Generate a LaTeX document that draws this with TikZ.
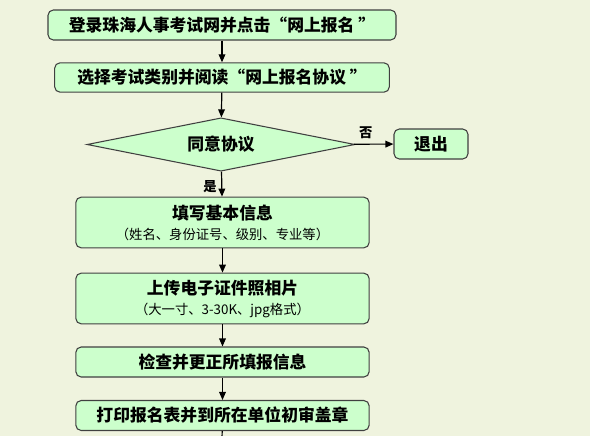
\documentclass[tikz,border=0pt]{standalone}
\usepackage{fontspec}
\newfontfamily\cjk{Noto Sans CJK SC}
\usetikzlibrary{shapes.geometric,arrows.meta}
\definecolor{pagebg}{HTML}{EFF3DE}
\definecolor{boxgreen}{HTML}{CCFFCC}
\definecolor{boxline}{HTML}{404040}
\tikzset{
  stepbox/.style={draw=boxline, fill=boxgreen, rounded corners=4pt, line width=0.8pt,
    inner sep=0pt, minimum width=220pt, font=\cjk\bfseries\fontsize{12.6}{14}\selectfont, align=center},
  askbox/.style={draw=boxline, fill=boxgreen, shape=diamond, aspect=5.05, line width=0.8pt,
    inner sep=0pt, minimum width=201pt, minimum height=40pt, font=\cjk\bfseries\fontsize{12.6}{14}\selectfont},
  flow/.style={-{Triangle[length=6pt,width=5pt]}, line width=0.9pt, black},
  small/.style={font=\cjk\bfseries\fontsize{10}{12}\selectfont}
}
\newcommand{\subline}[1]{{\mdseries\fontsize{10}{12}\selectfont #1}}
\begin{document}
\begin{tikzpicture}[x=0.75pt,y=-0.75pt]
	\useasboundingbox[fill=pagebg] (0,0) rectangle (590,436);
	\node[stepbox, minimum width=261pt, minimum height=22.5pt] (login) at (222,25) {登录珠海人事考试网并点击“网上报名 ”};
	\node[stepbox, minimum width=251pt, minimum height=22pt] (read) at (222,77.5) {选择考试类别并阅读“网上报名协议 ”};
	\node[askbox] (agree) at (221,144.5) {同意协议};
	\node[stepbox, minimum width=55.5pt, minimum height=22.5pt] (quit) at (431,144) {退出};
	\node[stepbox, minimum height=38pt] (info) at (222.5,222.5) {填写基本信息\\[1pt]\subline{（姓名、身份证号、级别、专业等）}};
	\node[stepbox, minimum height=38pt] (photo) at (222.5,298.5) {上传电子证件照相片\\[1pt]\subline{（大一寸、3-30K、jpg格式）}};
	\node[stepbox, minimum height=22.5pt] (check) at (222.5,362) {检查并更正所填报信息};
	\node[stepbox, minimum height=22.5pt] (print) at (222.5,415.5) {打印报名表并到所在单位初审盖章};
	\coordinate (tail) at (222,440);
	\draw[flow] (login) -- (read);
	\draw[flow] (read) -- (agree);
	\draw[flow] (agree) -- node[above, pos=0.3, small] {否} (quit);
	\draw[flow] (agree) -- node[left, pos=0.6, small] {是} (info);
	\draw[flow] (info) -- (photo);
	\draw[flow] (photo) -- (check);
	\draw[flow] (check) -- (print);
	\draw[line width=0.9pt] (print) -- (tail);
\end{tikzpicture}
\end{document}
